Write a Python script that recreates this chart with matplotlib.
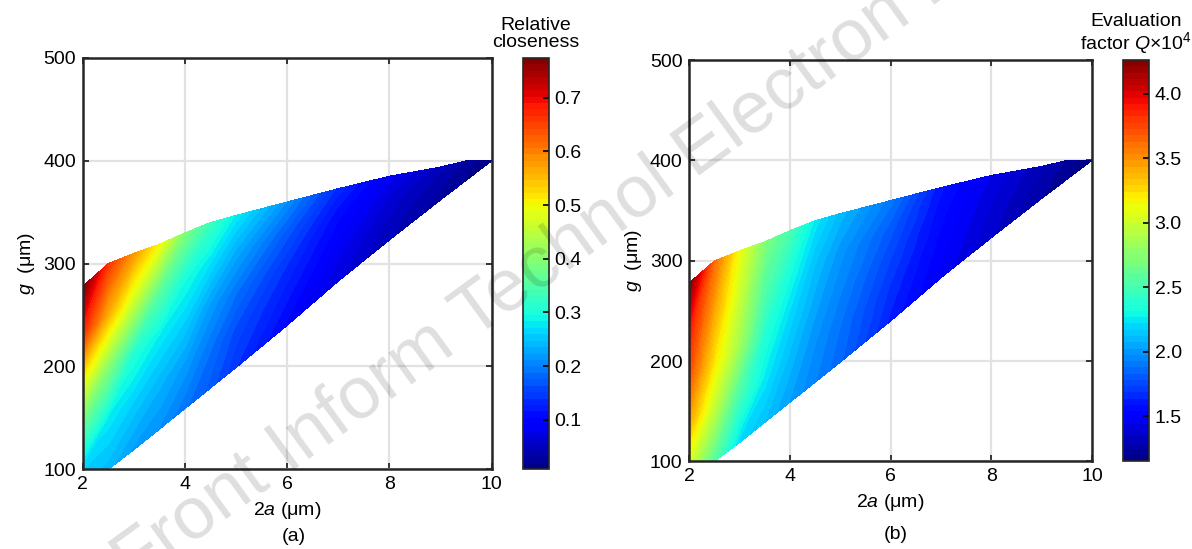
import numpy as np
import matplotlib.pyplot as plt
import matplotlib.tri as mtri

plt.rcParams['font.family'] = ['Liberation Sans', 'DejaVu Sans']
plt.rcParams['mathtext.fontset'] = 'custom'
plt.rcParams['mathtext.rm'] = 'Liberation Sans'
plt.rcParams['mathtext.it'] = 'Liberation Sans:italic'

# feasible region: column positions (2a) and lower/upper edge of g
a_cols = [2, 2.5, 3, 3.5, 4, 4.5, 5, 6, 7, 8, 9, 9.5, 10]
g_low = [100, 100, 119, 139, 159, 179, 199, 240, 283, 323, 362, 381, 400]
g_high = [278, 300, 310, 319, 330, 340, 347, 360, 373, 385, 394, 400, 400]
fracs = [0, 0.25, 0.5, 0.75, 1]   # sample heights in each column, bottom -> top

# values, per column bottom -> top
closeness = [
    [0.26, 0.37, 0.51, 0.67, 0.774],
    [0.24, 0.28, 0.40, 0.56, 0.66],
    [0.22, 0.26, 0.31, 0.46, 0.58],
    [0.21, 0.24, 0.28, 0.36, 0.50],
    [0.19, 0.22, 0.26, 0.30, 0.39],
    [0.17, 0.19, 0.22, 0.27, 0.33],
    [0.14, 0.16, 0.19, 0.23, 0.28],
    [0.10, 0.12, 0.14, 0.17, 0.21],
    [0.07, 0.08, 0.095, 0.11, 0.135],
    [0.045, 0.05, 0.06, 0.07, 0.085],
    [0.025, 0.03, 0.035, 0.04, 0.05],
    [0.018, 0.02, 0.022, 0.026, 0.03],
    [0.008],
]
q_factor = [
    [3.05, 3.45, 3.72, 3.90, 4.26],
    [2.55, 2.93, 3.22, 3.42, 3.62],
    [2.20, 2.50, 2.83, 2.98, 3.12],
    [2.12, 2.25, 2.38, 2.55, 2.72],
    [2.02, 2.10, 2.20, 2.33, 2.50],
    [1.93, 1.98, 2.05, 2.13, 2.25],
    [1.84, 1.88, 1.94, 2.00, 2.10],
    [1.62, 1.67, 1.73, 1.80, 1.90],
    [1.47, 1.50, 1.53, 1.56, 1.60],
    [1.35, 1.37, 1.39, 1.41, 1.44],
    [1.25, 1.26, 1.27, 1.29, 1.31],
    [1.20, 1.21, 1.22, 1.23, 1.24],
    [1.15],
]
closeness_range = (0.008, 0.774)
q_range = (1.15, 4.26)
closeness_ticks = [0.1, 0.2, 0.3, 0.4, 0.5, 0.6, 0.7]
q_ticks = [1.5, 2.0, 2.5, 3.0, 3.5, 4.0]


def build(vals):
    xs, ys, zs = [], [], []
    n = len(a_cols)
    m = len(fracs)
    for i in range(n - 1):
        for j, t in enumerate(fracs):
            xs.append(a_cols[i])
            ys.append(g_low[i] + t * (g_high[i] - g_low[i]))
            zs.append(vals[i][j])
    xs.append(a_cols[-1])
    ys.append(g_low[-1])
    zs.append(vals[-1][0])
    tris = []
    for i in range(n - 2):
        for j in range(m - 1):
            p = i * m + j
            q = (i + 1) * m + j
            tris.append([p, q, q + 1])
            tris.append([p, q + 1, p + 1])
    apex = (n - 1) * m
    i = n - 2
    for j in range(m - 1):
        tris.append([i * m + j, apex, i * m + j + 1])
    return mtri.Triangulation(xs, ys, tris), zs


fig = plt.figure(figsize=(11.92, 5.49), dpi=100)

panels = [
    ([0.0694, 0.1452, 0.3431, 0.7492], [0.4385, 0.1452, 0.0221, 0.7492],
     closeness, closeness_range, closeness_ticks, '%.1f', 'Relative\ncloseness'),
    ([0.5783, 0.1594, 0.3378, 0.7313], [0.9418, 0.1594, 0.0222, 0.7313],
     q_factor, q_range, q_ticks, '%.1f', 'Evaluation\nfactor $\\it{Q}$×10$^4$'),
]

for box, cbox, vals, vr, cticks, fmt, clabel in panels:
    ax = fig.add_axes(box)
    cax = fig.add_axes(cbox)
    tri, z = build(vals)
    levels = np.linspace(vr[0], vr[1], 65)
    cf = ax.tricontourf(tri, z, levels=levels, cmap='jet', zorder=2)
    ax.set_xlim(2, 10)
    ax.set_ylim(100, 500)
    ax.set_xticks([2, 4, 6, 8, 10])
    ax.set_yticks([100, 200, 300, 400, 500])
    ax.set_axisbelow(True)
    ax.grid(True, color='#e2e2e2', lw=1.6)
    ax.tick_params(direction='in', length=4, width=1.3, labelsize=14, pad=5,
                   top=True, right=True, color='#262626')
    for s in ax.spines.values():
        s.set_linewidth(1.8)
        s.set_color('#262626')
        s.set_zorder(5)
    ax.set_xlabel('2$\\it{a}$ (μm)', fontsize=14, labelpad=5)
    ax.set_ylabel('$\\it{g}$  (μm)', fontsize=14, labelpad=4)

    cb = fig.colorbar(cf, cax=cax, ticks=cticks, format=fmt)
    cb.outline.set_linewidth(1.2)
    cb.outline.set_edgecolor('#262626')
    cax.tick_params(direction='in', length=4, width=1.2, labelsize=14, pad=4)
    cax.set_title(clabel, fontsize=14, pad=8, linespacing=1.0)

fig.text(0.2466, 0.022, '(a)', fontsize=14, ha='center', va='center')
fig.text(0.7517, 0.027, '(b)', fontsize=14, ha='center', va='center')

# watermark
fig.text(0.481, 0.557, 'Front Inform Technol Electron Eng', rotation=36,
         fontsize=53, color='k', alpha=0.13, ha='center', va='center', zorder=10)

fig.savefig('out.png', dpi=100)
